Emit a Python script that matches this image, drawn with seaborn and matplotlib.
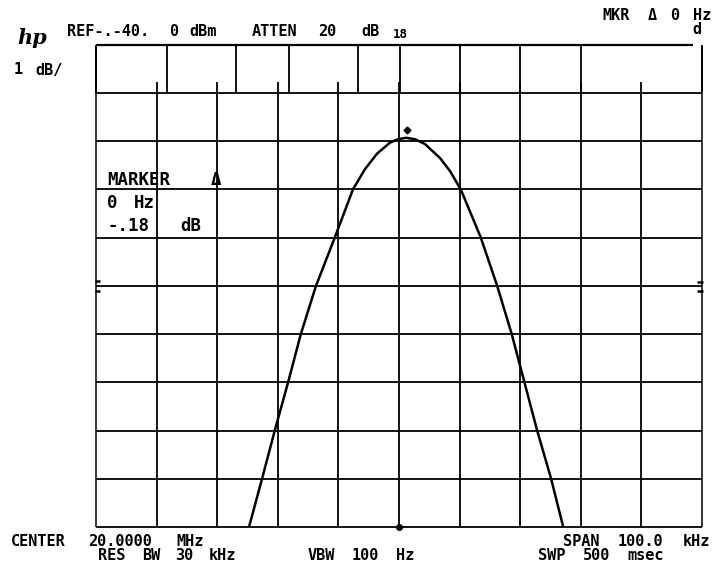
import numpy as np
import pandas as pd
import matplotlib
matplotlib.use("Agg")
import matplotlib.pyplot as plt
import seaborn as sns

# ---- data (frequency offset from 20.0000 MHz centre, kHz ; level, dBm) ----
freq_offset_khz = [-24.75, -22.6, -20.5, -18.3, -16.2, -13.7, -10.6, -7.6, -5.61,
                   -3.63, -1.49, -0.17, 1.16, 2.64, 4.29, 6.77, 8.42, 10.23,
                   13.5, 16.2, 18.6, 20.7, 22.8, 25.1, 27.1]
level_dbm = [-50, -49, -48, -47, -46, -45, -44, -43, -42.58,
             -42.26, -42.03, -41.96, -41.93, -41.96, -42.06, -42.35, -42.62, -43.01,
             -44, -45, -46, -47, -48, -49, -50]
marker_khz = [1.32]
marker_dbm = [-41.76]
bottom_dot_khz = [0.0]
bottom_dot_dbm = [-50.0]

freq_grid = list(range(-50, 51, 10))          # kHz, 10 kHz/div
level_grid = list(range(-50, -39, 1))         # dBm, 1 dB/div
strip_khz = [-50, -38.3, -26.9, -18.15, -6.77, 0.17, 10.07, 19.97, 30.0, 50]

df = pd.DataFrame({"freq_offset_khz": freq_offset_khz, "level_dbm": level_dbm})

sns.set_style("white")
plt.rcParams['font.family'] = ['DejaVu Sans Mono', 'DejaVu Sans']
plt.rcParams['text.color'] = 'black'

W, H = 717, 565
fig = plt.figure(figsize=(W / 100, H / 100), dpi=100)
ax = fig.add_axes([96 / W, 38 / H, 606 / W, 482.3 / H])
ax.set_xlim(-50, 50)
ax.set_ylim(-50, -40)
ax.set_axis_off()

lw = 1.3
# horizontal graticule
for lv in level_grid:
    if lv == -40:
        ax.hlines(lv, -50, 48.5, color="black", lw=lw + 0.3, clip_on=False)
    else:
        ax.hlines(lv, -50, 50, color="black", lw=lw, clip_on=False)
# vertical graticule (stops just inside the top strip)
for fq in freq_grid:
    if fq in (-50, 50):
        ax.vlines(fq, -50, -40.05, color="black", lw=lw - 0.2, clip_on=False)
    else:
        ax.vlines(fq, -50, -40.78, color="black", lw=lw, clip_on=False)
# irregular verticals of the top strip
for fq in strip_khz:
    ax.vlines(fq, -41, -40, color="black", lw=lw, clip_on=False)

# centre-line edge ticks
ax.hlines([-44.9, -45.11], -50.16, -49.34, color="black", lw=1.8, clip_on=False)
ax.hlines([-44.92, -45.11], 49.17, 50.17, color="black", lw=1.8, clip_on=False)

# trace
sns.lineplot(data=df, x="freq_offset_khz", y="level_dbm", sort=False,
             estimator=None, color="black", lw=1.8, ax=ax)
ax.set_axis_off()
ax.plot(marker_khz, marker_dbm, marker="D", ms=3.5, color="black", ls="none", clip_on=False)
ax.plot(bottom_dot_khz, bottom_dot_dbm, marker="o", ms=4, color="black", ls="none", clip_on=False)


def ftxt(x, y, s, size=11, **kw):
    fig.text(x / W, 1 - y / H, s, fontsize=size, fontweight="bold",
             va="center", ha="left", color="black", **kw)


def words(x0, x1, y, s, size=11):
    """place each word of a plotter label at its own character cell"""
    pitch = (x1 - x0) / len(s)
    i = 0
    for w in s.split(" "):
        if w:
            ftxt(x0 + i * pitch, y, w, size=size)
        i += len(w) + 1


ftxt(17, 38, "hp", size=15, style="italic", family=["DejaVu Serif"])
words(67, 220, 32, "REF-.-40. 0 dBm")
words(252, 340, 32, "ATTEN 20")
ftxt(361, 32, "dB")
ftxt(393, 35, "18", size=9)
words(602, 716, 16, "MKR Δ 0 Hz")
ftxt(692, 30, "d")
words(14, 68, 70, "1 dB/")

words(107, 226, 180, "MARKER Δ", size=12.5)
words(107, 160, 203, "0 Hz", size=12.5)
words(107, 210, 226, "-.18 dB", size=12.5)

words(11, 210, 541, "CENTER 20.0000 MHz")
words(98, 242, 556, "RES BW 30 kHz")
words(308, 418, 556, "VBW 100 Hz")
words(563, 715, 541, "SPAN 100.0 kHz")
words(538, 672, 556, "SWP 500 msec")

fig.savefig("out.png", dpi=100, facecolor="white")
